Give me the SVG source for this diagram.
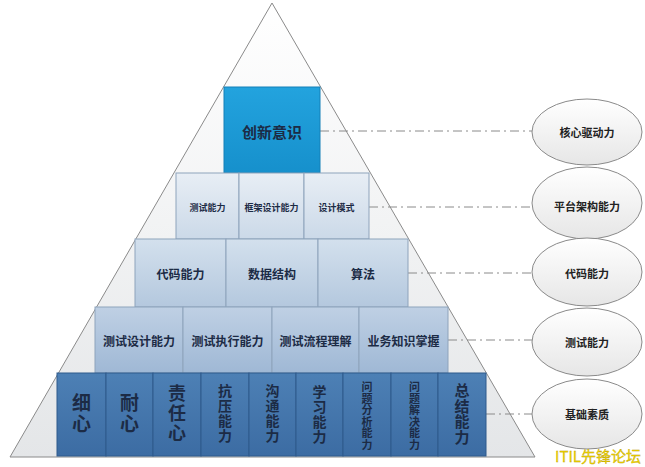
<svg xmlns="http://www.w3.org/2000/svg" width="645" height="467" viewBox="0 0 645 467">
<defs>
<linearGradient id="tri" x1="0" y1="0" x2="0" y2="1"><stop offset="0" stop-color="#ffffff"/><stop offset="1" stop-color="#e4e6e8"/></linearGradient>
<linearGradient id="gTop" x1="0" y1="0" x2="0" y2="1"><stop offset="0" stop-color="#23a3de"/><stop offset="1" stop-color="#1690cc"/></linearGradient>
<linearGradient id="g2" x1="0" y1="0" x2="0" y2="1"><stop offset="0" stop-color="#e8eef5"/><stop offset="1" stop-color="#cbd9e8"/></linearGradient>
<linearGradient id="g3" x1="0" y1="0" x2="0" y2="1"><stop offset="0" stop-color="#d3e0ed"/><stop offset="1" stop-color="#b4c8de"/></linearGradient>
<linearGradient id="g4" x1="0" y1="0" x2="0" y2="1"><stop offset="0" stop-color="#bfd0e4"/><stop offset="1" stop-color="#9fb8d5"/></linearGradient>
<linearGradient id="g5" x1="0" y1="0" x2="0" y2="1"><stop offset="0" stop-color="#4d80b5"/><stop offset="1" stop-color="#3c6ca3"/></linearGradient>
<linearGradient id="gE" x1="0" y1="0" x2="0" y2="1"><stop offset="0" stop-color="#ffffff"/><stop offset="1" stop-color="#e6e6e6"/></linearGradient>
</defs>
<style>
.t{font-family:"Noto Sans CJK SC","Liberation Serif",serif;font-weight:bold;fill:#1c2b45;text-anchor:middle;dominant-baseline:central}
.v{font-family:"Noto Sans CJK SC","Liberation Serif",serif;font-weight:bold;fill:#1c2b45;text-anchor:middle;writing-mode:vertical-rl;dominant-baseline:central}
.b2{fill:url(#g2);stroke:#8ea3bb;stroke-width:1}
.b3{fill:url(#g3);stroke:#8ea3bb;stroke-width:1}
.b4{fill:url(#g4);stroke:#8ea3bb;stroke-width:1}
.b5{fill:url(#g5);stroke:#2f5a8c;stroke-width:1}
.e{fill:url(#gE);stroke:#8a8a8a;stroke-width:1}
.et{font-family:"Noto Sans CJK SC","Liberation Serif",serif;font-weight:bold;font-size:11px;fill:#222;text-anchor:middle;dominant-baseline:central}
.c{stroke:#8a8a8a;stroke-width:1;fill:none;stroke-dasharray:9 4 2 4}
</style>
<rect width="645" height="467" fill="#ffffff"/>
<g id="pyramid">
<polygon points="272,3 10,457 535,457" fill="url(#tri)" stroke="#8a8a8a" stroke-width="1"/>
</g>
<g id="connectors">
<line class="c" x1="320" y1="131" x2="532" y2="131"/>
<line class="c" x1="369" y1="207" x2="532" y2="207"/>
<line class="c" x1="408" y1="273" x2="532" y2="273"/>
<line class="c" x1="448" y1="340" x2="532" y2="340"/>
<line class="c" x1="486" y1="414" x2="532" y2="414"/>
</g>
<g id="n-chuangxin">
<rect x="224" y="87" width="96" height="86" fill="url(#gTop)" stroke="#1580b8"/>
<text class="t" x="272" y="131" font-size="15">创新意识</text>
</g>
<g id="row2">
<g id="n-tiaoshi"><rect class="b2" x="176" y="173" width="63" height="66"/><text class="t" x="207.5" y="207" font-size="9">测试能力</text></g>
<g id="n-kuangjia"><rect class="b2" x="239" y="173" width="65" height="66"/><text class="t" x="271.5" y="207" font-size="9">框架设计能力</text></g>
<g id="n-sheji"><rect class="b2" x="304" y="173" width="65" height="66"/><text class="t" x="336.5" y="207" font-size="9">设计模式</text></g>
</g>
<g id="row3">
<g id="n-daima"><rect class="b3" x="135" y="239" width="91" height="68"/><text class="t" x="180.5" y="273" font-size="12">代码能力</text></g>
<g id="n-shuju"><rect class="b3" x="226" y="239" width="92" height="68"/><text class="t" x="272" y="273" font-size="12">数据结构</text></g>
<g id="n-suanfa"><rect class="b3" x="318" y="239" width="90" height="68"/><text class="t" x="363" y="273" font-size="12">算法</text></g>
</g>
<g id="row4">
<g id="n-csj"><rect class="b4" x="95" y="307" width="88" height="66"/><text class="t" x="139" y="340" font-size="12">测试设计能力</text></g>
<g id="n-czx"><rect class="b4" x="183" y="307" width="89" height="66"/><text class="t" x="227.5" y="340" font-size="12">测试执行能力</text></g>
<g id="n-clc"><rect class="b4" x="272" y="307" width="87" height="66"/><text class="t" x="315.5" y="340" font-size="12">测试流程理解</text></g>
<g id="n-yw"><rect class="b4" x="359" y="307" width="89" height="66"/><text class="t" x="403.5" y="340" font-size="12">业务知识掌握</text></g>
</g>
<g id="row5">
<g id="n-xixin"><rect class="b5" x="57" y="373" width="49" height="83"/><text class="v" x="81.5" y="414" font-size="19" letter-spacing="2">细心</text></g>
<g id="n-naixin"><rect class="b5" x="106" y="373" width="47" height="83"/><text class="v" x="129.5" y="414" font-size="19" letter-spacing="2">耐心</text></g>
<g id="n-zeren"><rect class="b5" x="153" y="373" width="48" height="83"/><text class="v" x="177" y="414" font-size="18" letter-spacing="2">责任心</text></g>
<g id="n-kangya"><rect class="b5" x="201" y="373" width="48" height="83"/><text class="v" x="225" y="414" font-size="14" letter-spacing="1">抗压能力</text></g>
<g id="n-goutong"><rect class="b5" x="249" y="373" width="47" height="83"/><text class="v" x="272.5" y="414" font-size="14" letter-spacing="1">沟通能力</text></g>
<g id="n-xuexi"><rect class="b5" x="296" y="373" width="47" height="83"/><text class="v" x="319.5" y="415" font-size="14" letter-spacing="1">学习能力</text></g>
<g id="n-fenxi"><rect class="b5" x="343" y="373" width="48" height="83"/><text class="v" x="367" y="416" font-size="11" letter-spacing="0.5">问题分析能力</text></g>
<g id="n-jiejue"><rect class="b5" x="391" y="373" width="47" height="83"/><text class="v" x="414.5" y="416" font-size="11" letter-spacing="0.5">问题解决能力</text></g>
<g id="n-zongjie"><rect class="b5" x="438" y="373" width="48" height="83"/><text class="v" x="462" y="414" font-size="15" letter-spacing="0.5">总结能力</text></g>
</g>
<g id="e-hexin"><ellipse class="e" cx="587" cy="132" rx="55" ry="33"/><text class="et" x="587" y="132">核心驱动力</text></g>
<g id="e-pingtai"><ellipse class="e" cx="587" cy="203" rx="55" ry="36"/><text class="et" x="587" y="206">平台架构能力</text></g>
<g id="e-daima"><ellipse class="e" cx="587" cy="272" rx="55" ry="34"/><text class="et" x="587" y="273">代码能力</text></g>
<g id="e-ceshi"><ellipse class="e" cx="587" cy="342" rx="55" ry="34"/><text class="et" x="587" y="342">测试能力</text></g>
<g id="e-jichu"><ellipse class="e" cx="587" cy="414" rx="55" ry="35"/><text class="et" x="587" y="414">基础素质</text></g>
<text x="598" y="462" font-family="'Noto Sans CJK SC','Liberation Sans',sans-serif" font-size="15" fill="#f2d800" stroke="#b89a00" stroke-width="0.3" text-anchor="middle">ITIL先锋论坛</text>
</svg>
